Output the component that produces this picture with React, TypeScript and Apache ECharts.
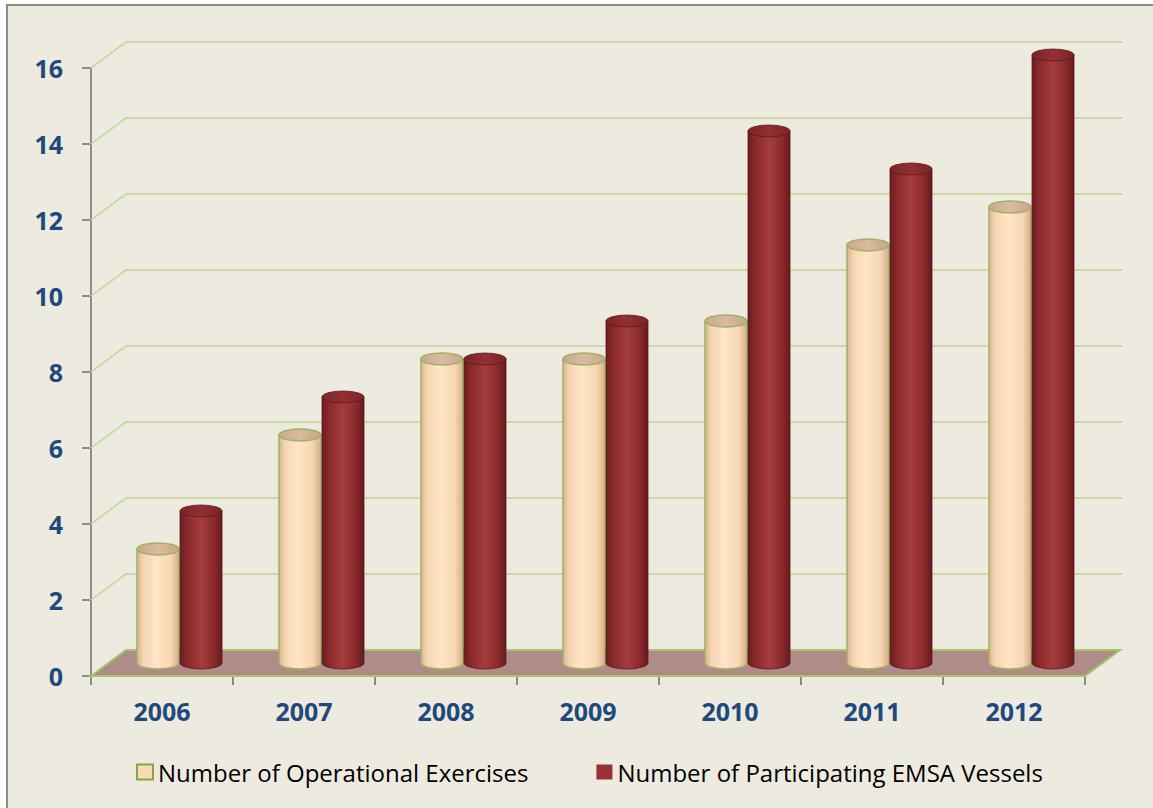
import React, { useEffect, useRef } from "react";
import * as echarts from "echarts";

const categories = ["2006", "2007", "2008", "2009", "2010", "2011", "2012"];
const exercises = [3, 6, 8, 8, 9, 11, 12];
const vessels = [4, 7, 8, 9, 14, 13, 16];
const yTicks = [0, 2, 4, 6, 8, 10, 12, 14, 16];
const seriesNames = [
  "Number of Operational Exercises",
  "Number of Participating EMSA Vessels",
];

const DX = 35;
const DY = -26;
const CYL_W = 42;
const CYL_RY = 6;
const FONT = "'Open Sans', 'Noto Sans', 'DejaVu Sans', sans-serif";

function wallsRender(params: any, api: any) {
  const v = api.value(1);
  const cs = params.coordSys;
  const y = api.coord([0, v])[1];
  const x0 = cs.x;
  const x1 = cs.x + cs.width;
  if (v === 0) {
    return {
      type: "polygon",
      shape: {
        points: [
          [x0, y],
          [x1, y],
          [x1 + DX, y + DY],
          [x0 + DX, y + DY],
        ],
      },
      style: { fill: "#B08C88", stroke: "#A6C46A", lineWidth: 2 },
    };
  }
  return {
    type: "polyline",
    shape: {
      points: [
        [x0, y],
        [x0 + DX, y + DY],
        [x1 + DX + 2, y + DY],
      ],
    },
    style: { fill: "none", stroke: "#CDD9A3", lineWidth: 2 },
  };
}

function makeCylinder(side: number, body: any, top: any, stroke: string, strokeW: number) {
  return (params: any, api: any) => {
    const idx = api.value(0);
    const v = api.value(1);
    const pt = api.coord([idx, v]);
    const pb = api.coord([idx, 0]);
    const rx = CYL_W / 2;
    const cx = pt[0] + DX / 2 + side * (rx + 0.5);
    const xl = cx - rx;
    const xr = cx + rx;
    const yt = pt[1] + DY / 2;
    const yb = pb[1] + DY / 2;
    const bodyPath = `M${xl} ${yt}L${xl} ${yb}A${rx} ${CYL_RY} 0 0 0 ${xr} ${yb}L${xr} ${yt}Z`;
    const topPath = `M${xl} ${yt}A${rx} ${CYL_RY} 0 1 0 ${xr} ${yt}A${rx} ${CYL_RY} 0 1 0 ${xl} ${yt}Z`;
    return {
      type: "group",
      children: [
        {
          type: "path",
          shape: { pathData: bodyPath },
          style: { fill: body, stroke, lineWidth: strokeW },
        },
        {
          type: "path",
          shape: { pathData: topPath },
          style: { fill: top, stroke, lineWidth: strokeW },
        },
      ],
    };
  };
}

export default function App() {
  const ref = useRef<HTMLDivElement>(null);
  useEffect(() => {
    if (!ref.current) return;
    const chart = echarts.init(ref.current, null, { renderer: "svg" });
    const LG = echarts.graphic.LinearGradient;
    const peachBody = new LG(0, 0, 1, 0, [
      { offset: 0, color: "#D9B48F" },
      { offset: 0.15, color: "#F6D5B1" },
      { offset: 0.45, color: "#FFE5C8" },
      { offset: 0.8, color: "#F7D6B2" },
      { offset: 1, color: "#D4AE88" },
    ]);
    const peachTop = new LG(0, 0, 1, 0, [
      { offset: 0, color: "#C9A98E" },
      { offset: 0.5, color: "#D9BBA0" },
      { offset: 1, color: "#C8A78B" },
    ]);
    const redBody = new LG(0, 0, 1, 0, [
      { offset: 0, color: "#6C1D1F" },
      { offset: 0.2, color: "#8D2B2D" },
      { offset: 0.5, color: "#A53C3E" },
      { offset: 0.8, color: "#8B2A2C" },
      { offset: 1, color: "#661B1D" },
    ]);
    const redTop = new LG(0, 0, 1, 0, [
      { offset: 0, color: "#7A2426" },
      { offset: 0.5, color: "#923032" },
      { offset: 1, color: "#7A2426" },
    ]);

    chart.setOption({
      animation: false,
      backgroundColor: "#FFFFFF",
      textStyle: { fontFamily: FONT },
      graphic: [
        {
          type: "rect",
          z: -10,
          shape: { x: 7, y: 5, width: 1160, height: 820 },
          style: { fill: "#EDEADF", stroke: "#8A8A8A", lineWidth: 2 },
        },
      ],
      grid: { left: 91, right: 68, top: 68, bottom: 132, containLabel: false },
      legend: {
        left: 131,
        top: 755,
        itemWidth: 16,
        itemHeight: 15,
        itemGap: 68,
        icon: "rect",
        selectedMode: false,
        textStyle: {
          fontFamily: FONT,
          fontSize: 24,
          color: "#000000",
        },
        data: [
          {
            name: seriesNames[0],
            itemStyle: { color: "#FCD9B6", borderColor: "#8AA24A", borderWidth: 2 },
          },
          { name: seriesNames[1], itemStyle: { color: "#993234", borderWidth: 0 } },
        ],
      },
      xAxis: {
        type: "category",
        data: categories,
        boundaryGap: true,
        axisLine: { show: false },
        axisTick: { show: true, length: 9, lineStyle: { color: "#8C8C8C", width: 2 } },
        axisLabel: {
          margin: 22,
          fontFamily: FONT,
          fontSize: 25,
          fontWeight: "bold",
          color: "#1F497D",
        },
        splitLine: { show: false },
      },
      yAxis: {
        type: "value",
        min: 0,
        max: 16,
        interval: 2,
        axisLine: { show: true, lineStyle: { color: "#8C8C8C", width: 2 } },
        axisTick: { show: true, length: 9, lineStyle: { color: "#8C8C8C", width: 2 } },
        axisLabel: {
          margin: 28,
          fontFamily: FONT,
          fontSize: 25,
          fontWeight: "bold",
          color: "#1F497D",
        },
        splitLine: { show: false },
      },
      series: [
        {
          type: "custom",
          name: "walls",
          silent: true,
          renderItem: wallsRender,
          data: yTicks.map((v) => [0, v]),
          encode: { x: 0, y: 1 },
          z: 1,
        },
        {
          type: "custom",
          name: seriesNames[0],
          renderItem: makeCylinder(-1, peachBody, peachTop, "#9FB266", 1.5),
          itemStyle: { color: "#FCD9B6" },
          data: exercises.map((v, i) => [i, v]),
          encode: { x: 0, y: 1 },
          z: 2,
        },
        {
          type: "custom",
          name: seriesNames[1],
          renderItem: makeCylinder(1, redBody, redTop, "#5E1819", 0.8),
          itemStyle: { color: "#993234" },
          data: vessels.map((v, i) => [i, v]),
          encode: { x: 0, y: 1 },
          z: 3,
        },
      ],
    });
    return () => chart.dispose();
  }, []);
  return (
    <div
      ref={ref}
      style={{ position: "absolute", left: 0, top: 0, width: 1153, height: 808 }}
    />
  );
}
